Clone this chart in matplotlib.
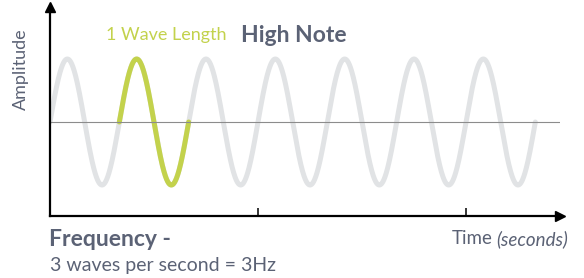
import numpy as np
import matplotlib
matplotlib.use("Agg")
import matplotlib.pyplot as plt

# ---- data ----
frequency_hz = 3          # waves per second
n_cycles = 7              # cycles drawn
highlight_cycle = [1, 2]  # highlighted wavelength (cycle index range)
tick_seconds = [1, 2]
title_text = "High Note"
wave_label = "1 Wave Length"
freq_title = "Frequency -"
freq_sub = "3 waves per second = 3Hz"

W, H = 584, 278
fig = plt.figure(figsize=(W / 100, H / 100), dpi=100)
plt.rcParams['font.family'] = ['Lato', 'DejaVu Sans']

# axes placement in pixels
x0_px, x1_px = 50, 560
ytop_px, ybot_px = 7, 216
ax = fig.add_axes([x0_px / W, (H - ybot_px) / H, (x1_px - x0_px) / W, (ybot_px - ytop_px) / H])

period = 1 / frequency_hz
t = np.linspace(0, n_cycles * period, 2000)
y = np.sin(2 * np.pi * frequency_hz * t)
th = np.linspace(highlight_cycle[0] * period, highlight_cycle[1] * period, 400)
yh = np.sin(2 * np.pi * frequency_hz * th)

gray = "#e1e3e5"
green = "#c3d24c"
slate = "#5b6275"

ax.plot(t, y, color=gray, lw=3.6, solid_capstyle='round', zorder=2)
ax.plot(th, yh, color=green, lw=3.6, solid_capstyle='round', zorder=3)
ax.axhline(0, color="#8c8c8c", lw=0.8, zorder=4)

px_per_s = 208
ax.set_xlim(0, (x1_px - x0_px) / px_per_s)
amp_px = 63
ax.set_ylim(-(ybot_px - 122) / amp_px, (122 - ytop_px) / amp_px)

for s in ['top', 'right']:
    ax.spines[s].set_visible(False)
for s in ['left', 'bottom']:
    ax.spines[s].set_linewidth(1.6)
    ax.spines[s].set_color('black')
    ax.spines[s].set_zorder(5)
ax.set_xticks(tick_seconds)
ax.set_xticklabels([])
ax.set_yticks([])
ax.tick_params(axis='x', direction='in', length=6, width=1.1, color='black')
ax.plot(1, 0, ">", color='black', ms=7, transform=ax.transAxes, clip_on=False, zorder=6)
ax.plot(0, 1, "^", color='black', ms=7, transform=ax.transAxes, clip_on=False, zorder=6)

# texts (figure pixel coords, from top)
def ft(x, y_top, s, **kw):
    return fig.text(x / W, 1 - y_top / H, s, **kw)

ft(106, 35, wave_label, color=green, fontsize=13, va='center', ha='left')
ft(241, 35, title_text, color=slate, fontsize=16.5, fontweight='bold', va='center', ha='left')
ft(21, 69, "Amplitude", color=slate, fontsize=13, rotation=90, va='center', ha='center')
ft(49, 239, freq_title, color=slate, fontsize=16.5, fontweight='bold', va='center', ha='left')
ft(50, 265, freq_sub, color=slate, fontsize=14, va='center', ha='left')
sec = ft(568, 239, "(seconds)", color=slate, fontsize=13.5, style='italic', va='center', ha='right')
fig.canvas.draw()
bb = sec.get_window_extent(fig.canvas.get_renderer())
fig.text((bb.x0 - 4) / W, 1 - 239 / H, "Time", color=slate, fontsize=13.5, va='center', ha='right')

fig.savefig("out.png", dpi=100)
